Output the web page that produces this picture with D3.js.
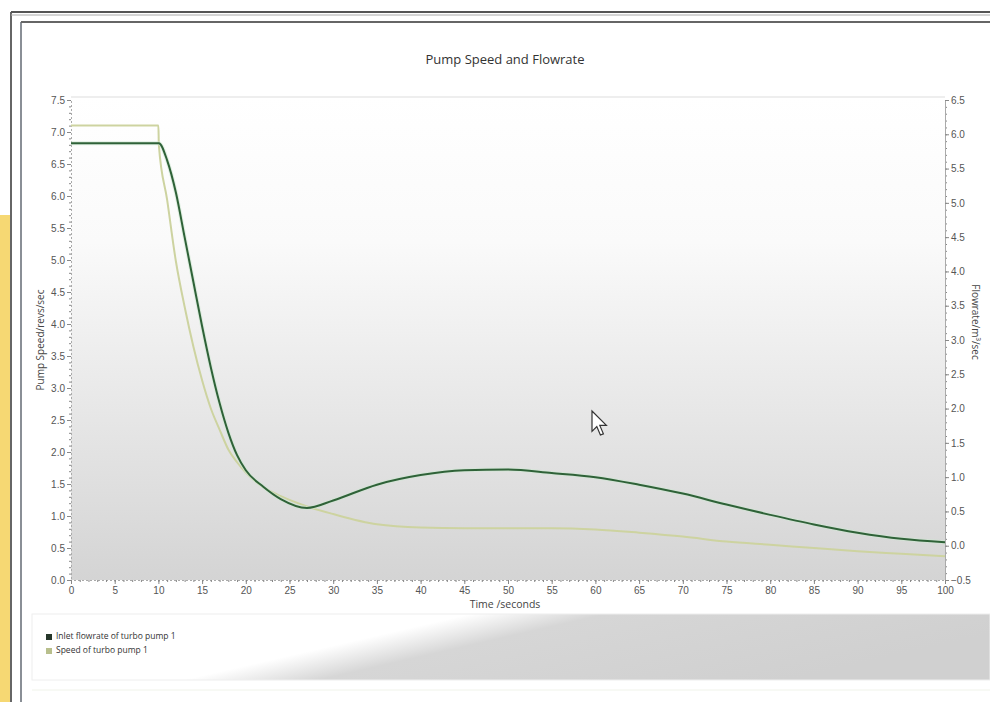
<!DOCTYPE html>
<html>
<head>
<meta charset="utf-8">
<script src="https://cdn.jsdelivr.net/npm/d3@7"></script>
<style>
  body { margin: 0; background: #fff; }
  svg { display: block; font-family: "Open Sans", "DejaVu Sans", sans-serif; }
  .tick text { fill: #555; font-size: 10px; }
  .domain { stroke: #aaa; }
  .tick line { stroke: #888; }
</style>
</head>
<body>
<div class="pump-chart"></div>
<script>
// time axis values (seconds)
var time = [0, 10, 10.05, 11, 12, 13, 14, 15, 16, 17, 18, 19, 20, 22, 24, 27, 30,
            35, 40, 45, 50, 55, 60, 65, 70, 75, 80, 85, 90, 95, 100];

// inlet flowrate (right axis, m3/sec)
var flowrate = [5.87, 5.87, 5.87, 5.62, 5.15, 4.5, 3.85, 3.2, 2.6, 2.08, 1.65, 1.32, 1.1, 0.86, 0.68, 0.55, 0.66,
                0.89, 1.03, 1.1, 1.11, 1.06, 1.0, 0.89, 0.76, 0.6, 0.45, 0.31, 0.19, 0.1, 0.05];

// pump speed (left axis, revs/sec)
var speed = [7.1, 7.1, 6.8, 5.94, 4.98, 4.27, 3.65, 3.12, 2.68, 2.35, 2.04, 1.84, 1.68, 1.45, 1.31, 1.15, 1.03,
             0.87, 0.82, 0.81, 0.81, 0.81, 0.79, 0.74, 0.68, 0.6, 0.55, 0.5, 0.45, 0.41, 0.37];

var xTicks = d3.range(0, 101, 5);
var leftTicks = d3.range(0, 7.51, 0.5);
var rightTicks = d3.range(-0.5, 6.51, 0.5);

var seriesNames = ["Inlet flowrate of turbo pump 1", "Speed of turbo pump 1"];
var seriesColors = ["#2f6238", "#cdd3a0"];

var width = 990, height = 702;

var svg = d3.select(".pump-chart")
            .append("svg")
            .attr("width", width)
            .attr("height", height);

var defs = svg.append("defs");
var bg = defs.append("linearGradient").attr("id", "plotbg")
    .attr("x1", 0).attr("y1", 0).attr("x2", 0).attr("y2", 1);
bg.append("stop").attr("offset", "0%").attr("stop-color", "#ffffff");
bg.append("stop").attr("offset", "30%").attr("stop-color", "#fafafa");
bg.append("stop").attr("offset", "100%").attr("stop-color", "#d4d4d4");

var lg = defs.append("linearGradient").attr("id", "legbg")
    .attr("x1", 0).attr("y1", 0).attr("x2", 1).attr("y2", 0.3);
lg.append("stop").attr("offset", "0%").attr("stop-color", "#ffffff");
lg.append("stop").attr("offset", "42%").attr("stop-color", "#ffffff");
lg.append("stop").attr("offset", "55%").attr("stop-color", "#d6d6d6");
lg.append("stop").attr("offset", "100%").attr("stop-color", "#d0d0d0");

// window chrome
svg.append("rect").attr("x", 0).attr("y", 215).attr("width", 10).attr("height", 487).attr("fill", "#f6d873");
svg.append("line").attr("x1", 11).attr("y1", 12).attr("x2", 11).attr("y2", 702).attr("stroke", "#666").attr("stroke-width", 2);
svg.append("line").attr("x1", 11).attr("y1", 12).attr("x2", 990).attr("y2", 12).attr("stroke", "#555").attr("stroke-width", 2);
svg.append("line").attr("x1", 11).attr("y1", 15).attr("x2", 990).attr("y2", 15).attr("stroke", "#aaa").attr("stroke-width", 1);
svg.append("line").attr("x1", 21).attr("y1", 22).attr("x2", 21).attr("y2", 702).attr("stroke", "#8a8f96").attr("stroke-width", 2);
svg.append("line").attr("x1", 21).attr("y1", 22).attr("x2", 990).attr("y2", 22).attr("stroke", "#666").attr("stroke-width", 2);

var x = d3.scaleLinear().domain([0, 100]).range([71, 945]);
var yL = d3.scaleLinear().domain([0, 7.5]).range([580, 100]);
var yR = d3.scaleLinear().domain([-0.5, 6.5]).range([580, 100]);

svg.append("rect").attr("x", 71).attr("y", 97).attr("width", 874).attr("height", 483)
    .attr("fill", "url(#plotbg)");
svg.append("line").attr("x1", 71).attr("y1", 97).attr("x2", 945).attr("y2", 97).attr("stroke", "#ddd");

svg.append("text").attr("x", 505).attr("y", 64).attr("text-anchor", "middle")
    .attr("font-size", 13).attr("fill", "#333").text("Pump Speed and Flowrate");

// minor ticks
svg.append("g").attr("transform", "translate(0,580)")
    .call(d3.axisBottom(x).tickValues(d3.range(0, 101, 1)).tickSize(2).tickFormat(""))
    .select(".domain").attr("stroke-dasharray", "2,2");
svg.append("g").attr("transform", "translate(71,0)")
    .call(d3.axisLeft(yL).tickValues(d3.range(0, 75).map(function(d) { return d / 10; })).tickSize(2).tickFormat(""))
    .select(".domain").attr("stroke-dasharray", "2,2");
svg.append("g").attr("transform", "translate(945,0)")
    .call(d3.axisRight(yR).tickValues(d3.range(-5, 65).map(function(d) { return d / 10; })).tickSize(2).tickFormat(""));

// major ticks
svg.append("g").attr("transform", "translate(0,580)")
    .call(d3.axisBottom(x).tickValues(xTicks).tickSize(4).tickPadding(3).tickFormat(d3.format("d")))
    .select(".domain").remove();
svg.append("g").attr("transform", "translate(71,0)")
    .call(d3.axisLeft(yL).tickValues(leftTicks).tickSize(4).tickPadding(2).tickFormat(d3.format(".1f")))
    .select(".domain").remove();
svg.append("g").attr("transform", "translate(945,0)")
    .call(d3.axisRight(yR).tickValues(rightTicks).tickSize(4).tickPadding(2).tickFormat(d3.format(".1f")))
    .select(".domain").attr("stroke", "#777");

svg.append("text").attr("x", 505).attr("y", 608).attr("text-anchor", "middle")
    .attr("font-size", 10.5).attr("fill", "#444").text("Time /seconds");
svg.append("text").attr("transform", "translate(44,340) rotate(-90)").attr("text-anchor", "middle")
    .attr("font-size", 10).attr("fill", "#444").text("Pump Speed/revs/sec");
svg.append("text").attr("transform", "translate(972,322) rotate(90)").attr("text-anchor", "middle")
    .attr("font-size", 10).attr("fill", "#444").text("Flowrate/m\u00b3/sec");

var pts = time.map(function(t, i) { return {t: t, f: flowrate[i], s: speed[i]}; });

var speedLine = d3.line().curve(d3.curveMonotoneX)
    .x(function(d) { return x(d.t); }).y(function(d) { return yL(d.s); });
var flowLine = d3.line().curve(d3.curveMonotoneX)
    .x(function(d) { return x(d.t); }).y(function(d) { return yR(d.f); });

svg.append("path").attr("d", speedLine(pts)).attr("fill", "none")
    .attr("stroke", seriesColors[1]).attr("stroke-width", 2);
svg.append("path").attr("d", flowLine(pts)).attr("fill", "none")
    .attr("stroke", "#cfe8d2").attr("stroke-width", 4).attr("opacity", 0.6);
svg.append("path").attr("d", flowLine(pts)).attr("fill", "none")
    .attr("stroke", seriesColors[0]).attr("stroke-width", 2);

// legend
svg.append("rect").attr("x", 32).attr("y", 614).attr("width", 958).attr("height", 66)
    .attr("fill", "url(#legbg)").attr("stroke", "#eee");
var leg = svg.append("g").selectAll("g").data(seriesNames).enter().append("g")
    .attr("transform", function(d, i) { return "translate(46," + (639 + i * 14) + ")"; });
leg.append("rect").attr("width", 6).attr("height", 6).attr("y", -5)
    .attr("fill", function(d, i) { return i === 0 ? "#26372a" : "#b8bf8c"; });
leg.append("text").attr("x", 10).attr("font-size", 8.5).attr("fill", "#333").text(function(d) { return d; });

svg.append("line").attr("x1", 32).attr("y1", 690).attr("x2", 990).attr("y2", 690).attr("stroke", "#f0f3ea");

// mouse pointer left in the screenshot
svg.append("path").attr("transform", "translate(592,411) scale(1.2)")
    .attr("d", "M0,0 L0,17 L4,13 L7,20 L9.5,19 L6.5,12 L12,12 Z")
    .attr("fill", "#fff").attr("stroke", "#333").attr("stroke-width", 1);
</script>
</body>
</html>
